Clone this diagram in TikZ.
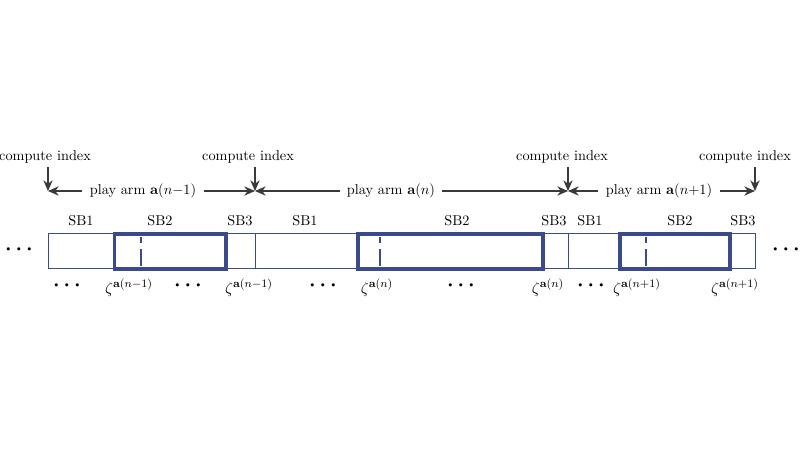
\documentclass[tikz,border=0pt]{standalone}
\usepackage{amsmath}
\usetikzlibrary{arrows.meta}
\definecolor{boxblue}{HTML}{3A4A8A}
\definecolor{arrowgray}{HTML}{3A3A3A}
\tikzset{
  lbl/.style={inner sep=1pt, font=\fontsize{10pt}{12pt}\selectfont},
  zlbl/.style={inner sep=1pt, font=\fontsize{11pt}{13pt}\selectfont},
  plbl/.style={inner sep=5pt, font=\fontsize{10pt}{12pt}\selectfont},
  arr/.style={draw=arrowgray, line width=0.9pt, -{Stealth[length=7.5pt,width=6.5pt]}},
  thinbox/.style={draw=boxblue, line width=0.7pt},
  thickbox/.style={draw=boxblue, line width=2.2pt},
  dashln/.style={draw=boxblue, line width=0.8pt, dash pattern=on 4pt off 4.5pt on 11pt off 0pt},
  dotsl/.style={inner sep=0pt, font=\Large\boldmath},
}
\begin{document}
\begin{tikzpicture}[x=0.7pt,y=-0.7pt]
\useasboundingbox (0,0) rectangle (800,450);
\fill[white] (0,0) rectangle (800,450);
% targets of arrows
\coordinate (t0) at (48,191);
\coordinate (t1) at (255,191);
\coordinate (t2) at (568,191);
\coordinate (t3) at (755,191);
% compute index labels
\node[lbl] (ci0) at (45,157) {compute index};
\node[lbl] (ci1) at (248,157) {compute index};
\node[lbl] (ci2) at (562,157) {compute index};
\node[lbl] (ci3) at (745,157) {compute index};
\foreach \i in {0,1,2,3} {\draw[arr] (ci\i.south -| t\i) ++(0,2) -- (t\i);}
% play arm labels
\node[plbl] (pa0) at (143,191) {play arm $\mathbf{a}(n{-}1)$};
\node[plbl] (pa1) at (391,191) {play arm $\mathbf{a}(n)$};
\node[plbl] (pa2) at (659,191) {play arm $\mathbf{a}(n{+}1)$};
\draw[arr] (pa0.west) -- (t0);
\draw[arr] (pa0.east) -- (t1);
\draw[arr] (pa1.west) -- (t1);
\draw[arr] (pa1.east) -- (t2);
\draw[arr] (pa2.west) -- (t2);
\draw[arr] (pa2.east) -- (t3);
% SB labels
\node[lbl] (s1a) at (81,221) {SB1};
\node[lbl] (s2a) at (160,221) {SB2};
\node[lbl] (s3a) at (240,221) {SB3};
\node[lbl] (s1b) at (305,221) {SB1};
\node[lbl] (s2b) at (457,221) {SB2};
\node[lbl] (s3b) at (554,221) {SB3};
\node[lbl] (s1c) at (590,221) {SB1};
\node[lbl] (s2c) at (680,221) {SB2};
\node[lbl] (s3c) at (743,221) {SB3};
% the strip
\draw[thinbox] (48,234) rectangle (755,269);
\draw[thinbox] (255,234) -- (255,269);
\draw[thinbox] (568,234) -- (568,269);
\draw[thickbox] (114.5,234) rectangle (226,269);
\draw[thickbox] (358,234) rectangle (543,269);
\draw[thickbox] (620,234) rectangle (730,269);
\draw[dashln] (141,237) -- (141,266);
\draw[dashln] (380,237) -- (380,266);
\draw[dashln] (646,237) -- (646,266);
% side dots
\node[dotsl] (dl) at (21,250) {$\cdots$};
\node[dotsl] (dr) at (788,250) {$\cdots$};
% bottom labels
\node[dotsl] (b1) at (69,286) {$\cdots$};
\node[zlbl] (z1) at (129,288) {$\zeta^{\mathbf{a}(n-1)}$};
\node[dotsl] (b2) at (190,286) {$\cdots$};
\node[zlbl] (z2) at (249,288) {$\zeta^{\mathbf{a}(n-1)}$};
\node[dotsl] (b3) at (325,286) {$\cdots$};
\node[zlbl] (z3) at (377,288) {$\zeta^{\mathbf{a}(n)}$};
\node[dotsl] (b4) at (463,286) {$\cdots$};
\node[zlbl] (z4) at (548,288) {$\zeta^{\mathbf{a}(n)}$};
\node[dotsl] (b5) at (593,286) {$\cdots$};
\node[zlbl] (z5) at (637,288) {$\zeta^{\mathbf{a}(n+1)}$};
\node[zlbl] (z6) at (735,288) {$\zeta^{\mathbf{a}(n+1)}$};
\end{tikzpicture}
\end{document}
